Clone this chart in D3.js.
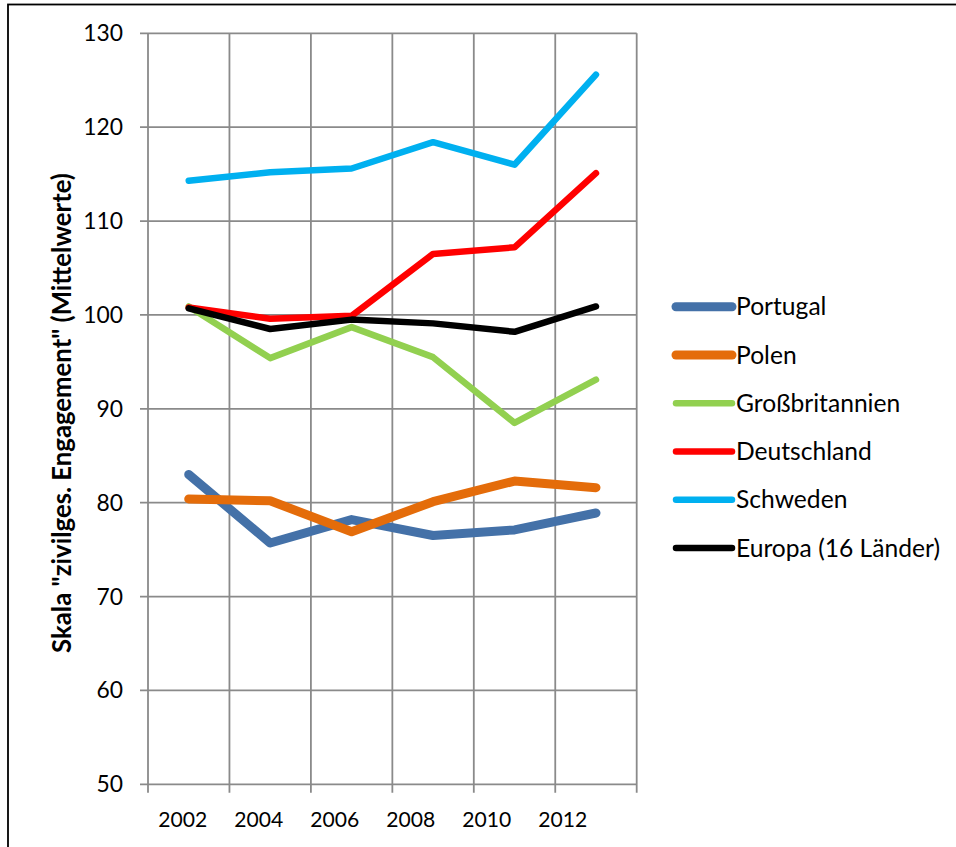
<!DOCTYPE html>
<html><head><meta charset="utf-8">
<script src="https://cdn.jsdelivr.net/npm/d3@7"></script>
<style>body{margin:0;background:#fff}svg{display:block}</style>
</head><body>
<script>
const years = ["2002","2004","2006","2008","2010","2012"];
const seriesNames = ["Portugal","Polen","Großbritannien","Deutschland","Schweden","Europa (16 Länder)"];
const portugal = [83.0, 75.7, 78.2, 76.5, 77.1, 78.9];
const polen = [80.4, 80.2, 76.9, 80.1, 82.3, 81.6];
const grossbritannien = [100.9, 95.4, 98.7, 95.5, 88.5, 93.1];
const deutschland = [100.8, 99.6, 99.9, 106.5, 107.2, 115.1];
const schweden = [114.3, 115.2, 115.6, 118.4, 116.0, 125.6];
const europa = [100.7, 98.5, 99.5, 99.1, 98.2, 100.9];
const yTicks = [50,60,70,80,90,100,110,120,130];
const yTitle = 'Skala "zivilges. Engagement" (Mittelwerte)';

const allValues = [portugal, polen, grossbritannien, deutschland, schweden, europa];
const colors = ["#4471A8","#E46C0A","#92D050","#FF0000","#00B0F0","#000000"];
const widths = [9, 9, 6.5, 6.5, 6.5, 6.5];

const W = 956, H = 847;
const svg = d3.select("body").append("svg").attr("width", W).attr("height", H);
const font = "Lato, 'Open Sans', sans-serif";

// outer frame
svg.append("rect").attr("x", 8).attr("y", 4.5).attr("width", 1200).attr("height", 1200)
  .attr("fill", "none").attr("stroke", "#000").attr("stroke-width", 1.8);

const x = d3.scaleBand().domain(years).range([148, 636.7]);
const xLab = d3.scalePoint().domain(years).range([182.8, 562.8]);
const y = d3.scaleLinear().domain([50, 130]).range([784.3, 33.3]);
const grid = "#8A8A8A";

// horizontal gridlines (+ outer ticks)
svg.append("g").selectAll("line").data(yTicks).join("line")
  .attr("x1", 140).attr("x2", 636.7)
  .attr("y1", d => y(d)).attr("y2", d => y(d))
  .attr("stroke", grid).attr("stroke-width", 1.8);
// vertical gridlines at band boundaries
const bounds = years.map(d => x(d)).concat([x.range()[1]]);
svg.append("g").selectAll("line").data(bounds).join("line")
  .attr("x1", d => d).attr("x2", d => d)
  .attr("y1", y(130)).attr("y2", y(50) + 8.4)
  .attr("stroke", grid).attr("stroke-width", 1.8);

function fit(sel, target) {
  sel.each(function() {
    const node = this;
    const fs = parseFloat(node.getAttribute("font-size"));
    const w = node.getComputedTextLength();
    node.setAttribute("font-size", (fs * target / w).toFixed(2));
  });
}

// y tick labels
const yl = svg.append("g").selectAll("text").data(yTicks).join("text")
  .attr("x", 123).attr("y", d => y(d)).attr("dy", "0.35em")
  .attr("text-anchor", "end").attr("font-family", font).attr("font-size", 22)
  .attr("fill", "#000").text(d => d);
{
  const n = yl.filter(d => d === 130).node();
  const k = 40 / n.getBBox().width;
  yl.attr("font-size", (22 * k).toFixed(2));
}

// x tick labels
const xl = svg.append("g").selectAll("text").data(years).join("text")
  .attr("x", d => xLab(d)).attr("y", 827)
  .attr("text-anchor", "middle").attr("font-family", font).attr("font-size", 22)
  .attr("fill", "#000").text(d => d);
{
  const k = 49 / xl.node().getBBox().width;
  xl.attr("font-size", (22 * k).toFixed(2));
}

// y title
const yt = svg.append("text")
  .attr("transform", "translate(61,413) rotate(-90)")
  .attr("text-anchor", "middle").attr("dominant-baseline", "central")
  .attr("font-family", font).attr("font-weight", "bold").attr("font-size", 20)
  .attr("fill", "#000").text(yTitle);
fit(yt, 480);

// lines
const line = d3.line().x((d, i) => x(years[i]) + x.bandwidth() / 2).y(d => y(d));
svg.append("g").selectAll("path").data(allValues).join("path")
  .attr("d", d => line(d))
  .attr("fill", "none")
  .attr("stroke", (d, i) => colors[i])
  .attr("stroke-width", (d, i) => widths[i])
  .attr("stroke-linecap", "round").attr("stroke-linejoin", "round");

// legend
const legY = d3.scalePoint().domain(seriesNames).range([306.7, 548]);
const lg = svg.append("g").selectAll("g").data(seriesNames).join("g")
  .attr("transform", d => `translate(0,${legY(d)})`);
lg.append("line").attr("x1", 676).attr("x2", 732).attr("y1", 0).attr("y2", 0)
  .attr("stroke", (d, i) => colors[i]).attr("stroke-width", (d, i) => widths[i])
  .attr("stroke-linecap", "round");
const lt = lg.append("text").attr("x", 736).attr("y", 0).attr("dy", "0.35em")
  .attr("font-family", font).attr("font-size", 22).attr("fill", "#000").text(d => d);
{
  const n = lt.filter(d => d === "Europa (16 Länder)").node();
  const k = 204 / n.getBBox().width;
  lt.attr("font-size", (22 * k).toFixed(2));
}
</script>
</body></html>
